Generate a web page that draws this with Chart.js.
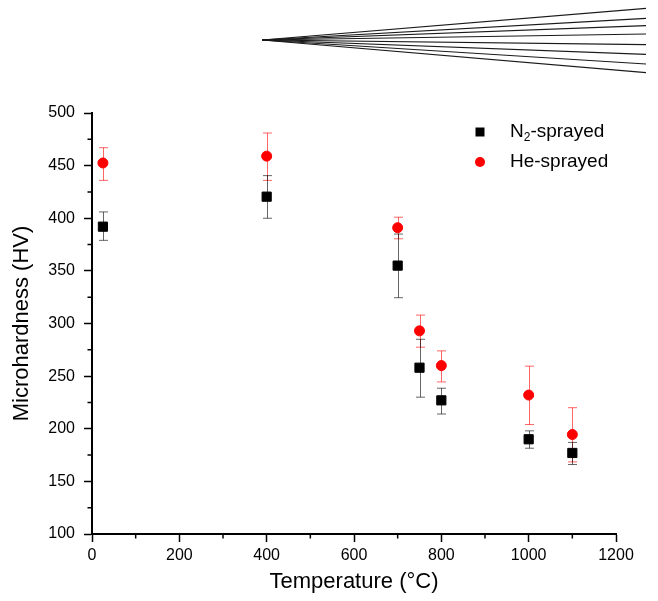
<!DOCTYPE html>
<html>
<head>
<meta charset="utf-8">
<script src="https://cdn.jsdelivr.net/npm/chart.js@4.4.0/dist/chart.umd.min.js"></script>
<style>
  html, body { margin: 0; padding: 0; background: #fff; }
  #wrap { position: relative; width: 658px; height: 601px; }
  #grafico, #leque { position: absolute; left: 0; top: 0; }
</style>
</head>
<body>
<div id="wrap">
  <canvas id="grafico" width="658" height="601"></canvas>
  <canvas id="leque" width="658" height="100"></canvas>
</div>
<script>
// Dados
let temperaturas = [25, 400, 700, 750, 800, 1000, 1100];

let n2Media = [392, 420.5, 355, 258, 227, 190, 177];
let n2Min = [379, 400, 324.5, 230, 214, 181.5, 166];
let n2Max = [406, 440.5, 385, 285, 238.5, 198, 187];

let heMedia = [452.5, 459, 391, 293, 260, 232, 194.5];
let heMin = [436, 436, 380.5, 277.5, 244.5, 204, 168.5];
let heMax = [467, 481, 401, 308, 274, 259.5, 220];

let rotulos = ["N₂-sprayed", "He-sprayed"];

// inclinacao das linhas do "leque" no topo
let leque = [31.7, 21.7, 14.3, 6, -4.7, -14.3, -24, -32.7];

let fonte = "Arial, 'Liberation Sans', sans-serif";
Chart.defaults.font.family = fonte;
Chart.defaults.color = "#000";

//Barras de erro
const barrasErro = {
  id: "barrasErro",
  beforeDatasetsDraw(chart) {
    let ctx = chart.ctx;
    let xs = chart.scales.x;
    let ys = chart.scales.y;
    // desenha He primeiro, depois N2 por cima
    for (let i = chart.data.datasets.length - 1; i >= 0; i--) {
      let ds = chart.data.datasets[i];
      ctx.save();
      ctx.strokeStyle = ds.corErro;
      ctx.lineWidth = 1;
      ds.data.forEach((p, j) => {
        let x = Math.round(xs.getPixelForValue(p.x)) + 0.5;
        let y1 = ys.getPixelForValue(ds.erroMin[j]);
        let y2 = ys.getPixelForValue(ds.erroMax[j]);
        ctx.beginPath();
        ctx.moveTo(x, y1);
        ctx.lineTo(x, y2);
        ctx.moveTo(x - 4.5, y1);
        ctx.lineTo(x + 4.5, y1);
        ctx.moveTo(x - 4.5, y2);
        ctx.lineTo(x + 4.5, y2);
        ctx.stroke();
      });
      ctx.restore();
    }
  },
};

//Ticks menores nos eixos
const ticksMenores = {
  id: "ticksMenores",
  afterDraw(chart) {
    let ctx = chart.ctx;
    let xs = chart.scales.x;
    let ys = chart.scales.y;
    ctx.save();
    ctx.strokeStyle = "#000";
    ctx.lineWidth = 1.5;
    ctx.beginPath();
    for (let v = ys.min + 25; v < ys.max; v += 50) {
      let y = ys.getPixelForValue(v);
      ctx.moveTo(chart.chartArea.left - 4.5, y);
      ctx.lineTo(chart.chartArea.left, y);
    }
    for (let v = xs.min + 100; v < xs.max; v += 200) {
      let x = xs.getPixelForValue(v);
      ctx.moveTo(x, chart.chartArea.bottom);
      ctx.lineTo(x, chart.chartArea.bottom + 4.5);
    }
    ctx.stroke();
    ctx.restore();
  },
};

//Legenda dentro da area
const legendaInterna = {
  id: "legendaInterna",
  afterDraw(chart) {
    let ctx = chart.ctx;
    let area = chart.chartArea;
    let x0 = area.left + 388;
    let y0 = area.top + 19;
    ctx.save();
    chart.data.datasets.forEach((ds, i) => {
      let y = y0 + i * 30;
      ctx.fillStyle = ds.backgroundColor;
      ctx.beginPath();
      if (ds.pointStyle === "rect") {
        ctx.rect(x0 - 4.5, y - 4.5, 9, 9);
      } else {
        ctx.arc(x0, y, 5, 0, Math.PI * 2);
      }
      ctx.fill();

      ctx.fillStyle = "#000";
      ctx.textBaseline = "middle";
      let tx = x0 + 30;
      let partes = ds.label.split("₂");
      ctx.font = "19px " + fonte;
      ctx.fillText(partes[0], tx, y);
      tx += ctx.measureText(partes[0]).width;
      if (partes.length > 1) {
        ctx.font = "12px " + fonte;
        ctx.fillText("2", tx, y + 6);
        tx += ctx.measureText("2").width;
        ctx.font = "19px " + fonte;
        ctx.fillText(partes[1], tx, y);
      }
    });
    ctx.restore();
  },
};

function pontos(valores) {
  return temperaturas.map((t, i) => ({ x: t, y: valores[i] }));
}

// sem separador de milhar nos ticks
function semMilhar(valor) {
  return String(valor);
}

let grafico = new Chart(document.getElementById("grafico"), {
  type: "scatter",
  data: {
    datasets: [
      {
        label: rotulos[0],
        data: pontos(n2Media),
        erroMin: n2Min,
        erroMax: n2Max,
        corErro: "rgba(0, 0, 0, 0.6)",
        pointStyle: "rect",
        pointRadius: 6.5,
        backgroundColor: "#000",
        borderColor: "#000",
        borderWidth: 1,
      },
      {
        label: rotulos[1],
        data: pontos(heMedia),
        erroMin: heMin,
        erroMax: heMax,
        corErro: "rgba(255, 0, 0, 0.6)",
        pointStyle: "circle",
        pointRadius: 5,
        backgroundColor: "#ff0000",
        borderColor: "#ff0000",
        borderWidth: 1,
      },
    ],
  },
  options: {
    responsive: false,
    animation: false,
    layout: {
      padding: { top: 113, right: 42, bottom: 0, left: 0 },
    },
    plugins: {
      legend: { display: false },
      tooltip: { enabled: false },
    },
    scales: {
      x: {
        type: "linear",
        min: 0,
        max: 1200,
        ticks: { stepSize: 200, font: { size: 16 }, color: "#000", padding: 4, maxRotation: 0, callback: semMilhar },
        grid: { drawOnChartArea: false, tickLength: 8, tickColor: "#000", tickWidth: 1.5 },
        border: { color: "#000", width: 2 },
        title: {
          display: true,
          text: "Temperature (°C)",
          font: { size: 22 },
          color: "#000",
          padding: { top: 0, bottom: 6 },
        },
        afterFit: (s) => {
          s.height = 67;
        },
      },
      y: {
        type: "linear",
        min: 100,
        max: 500,
        ticks: { stepSize: 50, font: { size: 16 }, color: "#000", padding: 9, callback: semMilhar },
        grid: { drawOnChartArea: false, tickLength: 8, tickColor: "#000", tickWidth: 1.5 },
        border: { color: "#000", width: 2 },
        title: {
          display: true,
          text: "Microhardness (HV)",
          font: { size: 22 },
          color: "#000",
          padding: { top: 9, bottom: 0 },
        },
        afterFit: (s) => {
          s.width = 92;
        },
      },
    },
  },
  plugins: [barrasErro, ticksMenores, legendaInterna],
});

// Leque de linhas no topo
let graficoLeque = new Chart(document.getElementById("leque"), {
  type: "line",
  data: {
    datasets: leque.map((v) => ({
      data: [
        { x: 0, y: 0 },
        { x: 1, y: v },
      ],
      borderColor: "#1a1a1a",
      borderWidth: 1.2,
      pointRadius: 0,
    })),
  },
  options: {
    responsive: false,
    animation: false,
    layout: { padding: { top: 0, right: 12, bottom: 20, left: 262 } },
    plugins: {
      legend: { display: false },
      tooltip: { enabled: false },
    },
    scales: {
      x: { type: "linear", display: false, min: 0, max: 1 },
      y: { type: "linear", display: false, min: -40, max: 40 },
    },
  },
});
</script>
</body>
</html>
